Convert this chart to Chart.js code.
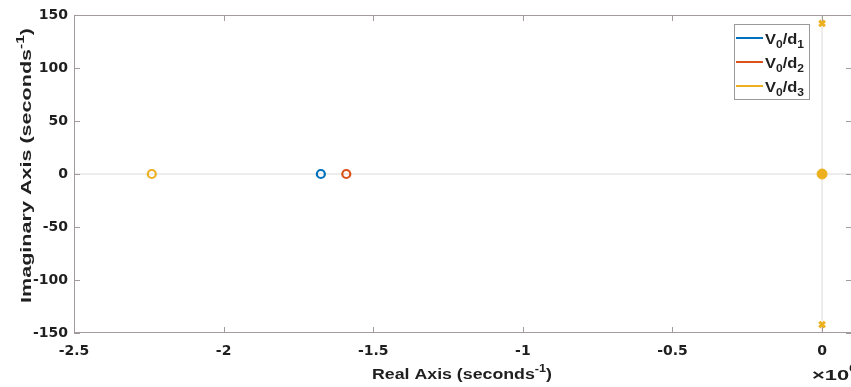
<!DOCTYPE html>
<html>
<head>
<meta charset="utf-8">
<script src="https://cdn.jsdelivr.net/npm/chart.js@4.4.1/dist/chart.umd.min.js"></script>
<style>
  html, body { margin: 0; padding: 0; background: #fff; overflow: hidden; }
  #wrap { width: 870px; height: 387px; }
</style>
</head>
<body>
<div id="wrap"><canvas id="pz" width="870" height="387"></canvas></div>
<script>
// Pole-zero map of the three transfer functions (real axis in units of 1e6 s^-1)
const seriesNames = ['V0/d1', 'V0/d2', 'V0/d3'];
const seriesColors = ['#0072BD', '#D95319', '#EDB120'];

// zeros on the negative real axis
const zeroReal = [-1.675, -1.59, -2.24];
const zeroImag = [0, 0, 0];

// complex pole pair of V0/d3
const poleReal = [0, 0];
const poleImag = [142, -142];

// poles/zeros clustered at the origin
const originReal = [0];
const originImag = [0];

// axis ticks
const xTicks = [-2.5, -2, -1.5, -1, -0.5, 0];
const xTickLabels = ['-2.5', '-2', '-1.5', '-1', '-0.5', '0'];
const yTicks = [-150, -100, -50, 0, 50, 100, 150];

const INK = '#1f1f1f';
const BOX = '#a39b9b';

function pts(xs, ys) { return xs.map((x, i) => ({ x: x, y: ys[i] })); }

const datasets = [
  { label: seriesNames[0], data: pts([zeroReal[0]], [zeroImag[0]]), pointStyle: 'circle',
    borderColor: seriesColors[0], backgroundColor: 'rgba(0,0,0,0)', pointRadius: 4, borderWidth: 2.2 },
  { label: seriesNames[1], data: pts([zeroReal[1]], [zeroImag[1]]), pointStyle: 'circle',
    borderColor: seriesColors[1], backgroundColor: 'rgba(0,0,0,0)', pointRadius: 4, borderWidth: 2.2 },
  { label: seriesNames[2], data: pts([zeroReal[2]], [zeroImag[2]]), pointStyle: 'circle',
    borderColor: seriesColors[2], backgroundColor: 'rgba(0,0,0,0)', pointRadius: 4, borderWidth: 2.2 },
  { label: seriesNames[2] + ' poles', data: pts(poleReal, poleImag), pointStyle: 'crossRot',
    borderColor: seriesColors[2], backgroundColor: seriesColors[2], pointRadius: 4, borderWidth: 3 },
  { label: 'origin', data: pts(originReal, originImag), pointStyle: 'circle',
    borderColor: seriesColors[2], backgroundColor: seriesColors[2], pointRadius: 5, borderWidth: 1 }
];

// draws text made of runs (normal / raised / lowered), stretched to a given length
function drawRich(ctx, parts, x, y, width, rotate) {
  ctx.save();
  let total = 0;
  parts.forEach(p => { ctx.font = 'bold ' + p.size + 'px "Liberation Sans", Arial, sans-serif'; p.w = ctx.measureText(p.t).width; total += p.w; });
  ctx.translate(x, y);
  if (rotate) ctx.rotate(-Math.PI / 2);
  ctx.scale(width ? width / total : 1, 1);
  ctx.fillStyle = INK;
  ctx.textBaseline = 'alphabetic';
  ctx.textAlign = 'left';
  let cx = 0;
  parts.forEach(p => { ctx.font = 'bold ' + p.size + 'px "Liberation Sans", Arial, sans-serif'; ctx.fillText(p.t, cx, p.dy || 0); cx += p.w; });
  ctx.restore();
}

const decor = {
  id: 'decor',
  beforeDatasetsDraw(chart) {
    const { ctx, chartArea: a, scales: { x, y } } = chart;
    ctx.save();
    ctx.strokeStyle = '#e9e7e7';
    ctx.lineWidth = 1.5;
    const x0 = x.getPixelForValue(0), y0 = y.getPixelForValue(0);
    ctx.beginPath();
    ctx.moveTo(a.left, y0); ctx.lineTo(a.right, y0);
    ctx.moveTo(x0, a.top); ctx.lineTo(x0, a.bottom);
    ctx.stroke();
    ctx.restore();
  },
  afterDatasetsDraw(chart) {
    const { ctx, chartArea: a, scales: { x, y } } = chart;
    ctx.save();
    // axes box with inward ticks
    ctx.strokeStyle = BOX;
    ctx.lineWidth = 1;
    ctx.strokeRect(a.left + 0.5, a.top + 0.5, a.right - a.left - 1, a.bottom - a.top - 1);
    const tl = 6;
    ctx.beginPath();
    xTicks.forEach(v => {
      const px = Math.round(x.getPixelForValue(v)) + 0.5;
      ctx.moveTo(px, a.bottom); ctx.lineTo(px, a.bottom - tl);
      ctx.moveTo(px, a.top); ctx.lineTo(px, a.top + tl);
    });
    yTicks.forEach(v => {
      const py = Math.round(y.getPixelForValue(v)) + 0.5;
      ctx.moveTo(a.left, py); ctx.lineTo(a.left + tl, py);
      ctx.moveTo(a.right, py); ctx.lineTo(a.right - tl, py);
    });
    ctx.stroke();

    // legend
    const lx = 734, ly = 24, lw = 75, lh = 75;
    ctx.fillStyle = '#fff';
    ctx.fillRect(lx, ly, lw, lh);
    ctx.strokeStyle = '#9a9a9a';
    ctx.strokeRect(lx + 0.5, ly + 0.5, lw, lh);
    const rows = [38, 62, 86];
    seriesNames.forEach((name, i) => {
      ctx.strokeStyle = seriesColors[i];
      ctx.lineWidth = 2;
      ctx.beginPath();
      ctx.moveTo(736, rows[i]); ctx.lineTo(763, rows[i]);
      ctx.stroke();
      const n = name.split('/');
      drawRich(ctx, [
        { t: n[0][0], size: 15 }, { t: n[0].slice(1), size: 11, dy: 4 },
        { t: '/' + n[1][0], size: 15 }, { t: n[1].slice(1), size: 11, dy: 4 }
      ], 765, rows[i] + 6, 39);
    });

    // axis titles
    drawRich(ctx, [{ t: 'Real Axis (seconds', size: 14 }, { t: '-1', size: 10, dy: -7 }, { t: ')', size: 14 }],
      372, 379, 180);
    drawRich(ctx, [{ t: 'Imaginary Axis (seconds', size: 14 }, { t: '-1', size: 10, dy: -7 }, { t: ')', size: 14 }],
      31, 303, 275, true);
    // exponent of the real axis
    drawRich(ctx, [{ t: '\u00d710', size: 15 }, { t: '6', size: 11, dy: -8 }], 812, 380, 46);
    ctx.restore();
  }
};

new Chart(document.getElementById('pz'), {
  type: 'scatter',
  data: { datasets: datasets },
  options: {
    responsive: false,
    animation: false,
    layout: { padding: { top: 15, right: 18, left: 0, bottom: 0 } },
    plugins: { legend: { display: false }, tooltip: { enabled: false } },
    scales: {
      x: {
        type: 'linear', min: -2.5, max: 0.1,
        afterBuildTicks: s => { s.ticks = xTicks.map(v => ({ value: v })); },
        afterFit: s => { s.height = 54; },
        grid: { display: false, drawTicks: false },
        border: { display: false },
        ticks: {
          padding: 10, color: INK, maxRotation: 0, autoSkip: false,
          font: { family: '"DejaVu Sans"', size: 14, weight: 'bold' },
          callback: (v) => { const i = xTicks.indexOf(v); return i >= 0 ? xTickLabels[i] : ''; }
        }
      },
      y: {
        type: 'linear', min: -150, max: 150,
        afterBuildTicks: s => { s.ticks = yTicks.map(v => ({ value: v })); },
        afterFit: s => { s.width = 74; },
        grid: { display: false, drawTicks: false },
        border: { display: false },
        ticks: {
          padding: 6, color: INK, autoSkip: false,
          font: { family: '"DejaVu Sans"', size: 14, weight: 'bold' },
          callback: v => String(v)
        }
      }
    }
  },
  plugins: [decor]
});
</script>
</body>
</html>
